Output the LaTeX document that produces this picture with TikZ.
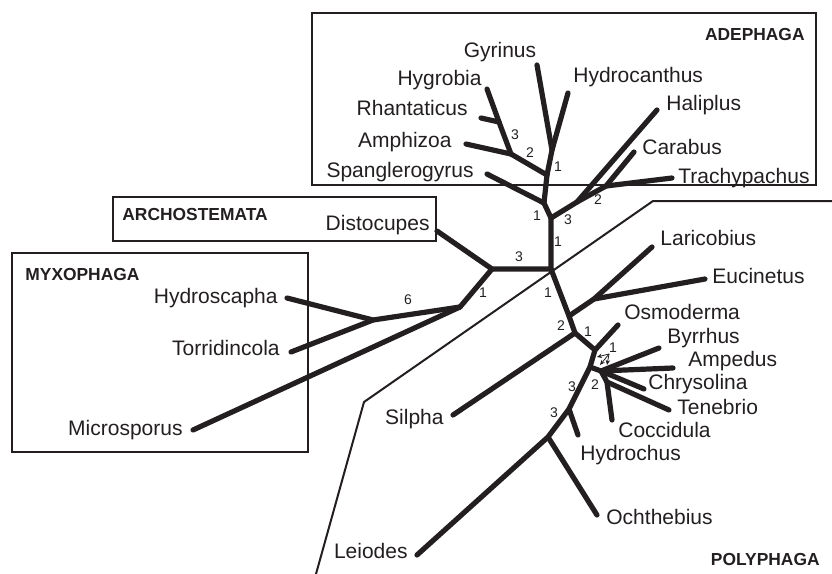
\documentclass[tikz,border=0pt]{standalone}
\usepackage{fontspec}
\setmainfont{Liberation Sans}
\usetikzlibrary{arrows.meta}
\definecolor{ink}{HTML}{231F20}

\begin{document}
\begin{tikzpicture}[
		x=0.5pt, y=-0.5pt, ink,
		>={Stealth[length=2.5pt, width=2.2pt]},
		branch/.style={line width=2.6pt, line cap=round, line join=round},
		groupbox/.style={draw, line width=1pt},
		taxon/.style={font=\fontsize{10.5}{12}\selectfont, inner sep=0pt, text height=7.6pt, text depth=2.2pt},
		clade/.style={font=\fontsize{8.7}{10}\selectfont\bfseries, inner sep=0pt, text height=6.3pt, text depth=0pt},
		support/.style={font=\fontsize{7}{8}\selectfont, inner sep=0pt}
		]
		\useasboundingbox (0,0) rectangle (832,574);
		
		% Suborder boxes and the Polyphaga boundary
		\draw[groupbox] (312,13) rectangle (816,185);
		\draw[groupbox] (113,197) rectangle (436,241);
		\draw[groupbox] (12,253) rectangle (308,452);
		\draw[line width=1pt] (316,574) -- (364,402) -- (653,201) -- (832,201);
		
		% Inner nodes of the tree
		\coordinate (core) at (551,269);
		\coordinate (adA) at (551,218);
		\coordinate (adB) at (544,203);
		\coordinate (adC) at (547,175);
		\coordinate (adD) at (552,150);
		\coordinate (adE) at (511,154);
		\coordinate (adF) at (499,122);
		\coordinate (adG) at (577,202);
		\coordinate (adH) at (606,186);
		\coordinate (arA) at (492,269);
		\coordinate (myA) at (460,307);
		\coordinate (myB) at (373,320);
		\coordinate (poA) at (569,316);
		\coordinate (poB) at (594,299);
		\coordinate (poC) at (575,333);
		\coordinate (poD) at (595,350);
		\coordinate (poE) at (590,367);
		\coordinate (poF) at (601,371);
		\coordinate (poG) at (607,382);
		\coordinate (poH) at (569,409);
		\coordinate (poI) at (548,437);
		
		% Tips
		\coordinate (tGyr) at (537,65);
		\coordinate (tHydc) at (568,93);
		\coordinate (tHygr) at (487,89);
		\coordinate (tRhan) at (481,118);
		\coordinate (tAmph) at (466,144);
		\coordinate (tSpan) at (487,174);
		\coordinate (tHali) at (657,110);
		\coordinate (tCara) at (634,152);
		\coordinate (tTrac) at (672,178);
		\coordinate (tDist) at (437,231);
		\coordinate (tHyds) at (287,298);
		\coordinate (tTorr) at (291,352);
		\coordinate (tMicr) at (193,430);
		\coordinate (tLari) at (652,247);
		\coordinate (tEuci) at (705,279);
		\coordinate (tSilp) at (453,415);
		\coordinate (tOsmo) at (618,325);
		\coordinate (tByrr) at (659,348);
		\coordinate (tAmpe) at (673,368);
		\coordinate (tChry) at (644,389);
		\coordinate (tTene) at (669,410);
		\coordinate (tCocc) at (612,420);
		\coordinate (tHydr) at (578,435);
		\coordinate (tOcht) at (597,515);
		\coordinate (tLeio) at (417,555);
		
		% Adephaga
		\draw[branch] (core) -- (adA) -- (adB) -- (adC) -- (adD) -- (tGyr);
		\draw[branch] (adD) -- (tHydc);
		\draw[branch] (adC) -- (adE) -- (adF) -- (tHygr);
		\draw[branch] (adF) -- (tRhan);
		\draw[branch] (adE) -- (tAmph);
		\draw[branch] (adB) -- (tSpan);
		\draw[branch] (adA) -- (adG) -- (tHali);
		\draw[branch] (adG) -- (adH) -- (tCara);
		\draw[branch] (adH) -- (tTrac);
		
		% Archostemata and Myxophaga
		\draw[branch] (core) -- (arA) -- (tDist);
		\draw[branch] (arA) -- (myA) -- (myB) -- (tHyds);
		\draw[branch] (myB) -- (tTorr);
		\draw[branch] (myA) -- (tMicr);
		
		% Polyphaga
		\draw[branch] (core) -- (poA) -- (poC) -- (poD) -- (poE) -- (poH) -- (poI) -- (tLeio);
		\draw[branch] (poA) -- (poB) -- (tLari);
		\draw[branch] (poB) -- (tEuci);
		\draw[branch] (poC) -- (tSilp);
		\draw[branch] (poD) -- (tOsmo);
		\draw[branch] (poE) -- (poF) -- (tByrr);
		\draw[branch] (poF) -- (tAmpe);
		\draw[branch] (poF) -- (tChry);
		\draw[branch] (poF) -- (poG) -- (tTene);
		\draw[branch] (poG) -- (tCocc);
		\draw[branch] (poH) -- (tHydr);
		\draw[branch] (poI) -- (tOcht);
		
		% the small arrows at the Byrrhus/Elateriformia split
		\coordinate (mvO) at (609,354);
		\coordinate (mvA) at (597,357);
		\coordinate (mvB) at (600,365);
		\coordinate (mvC) at (607,365);
		\draw[line width=0.4pt, ->] (mvO) -- (mvA);
		\draw[line width=0.4pt, ->] (mvO) -- (mvB);
		\draw[line width=0.4pt, ->] (mvO) -- (mvC);
		
		% Taxon names
		\node[taxon] (lGyr) at (500,52) {Gyrinus};
		\node[taxon, anchor=east] (lHygr) at (482,80) {Hygrobia};
		\node[taxon, anchor=east] (lRhan) at (468,110) {Rhantaticus};
		\node[taxon, anchor=east] (lAmph) at (452,142) {Amphizoa};
		\node[taxon, anchor=east] (lSpan) at (474,172) {Spanglerogyrus};
		\node[taxon, anchor=west] (lHydc) at (573,77) {Hydrocanthus};
		\node[taxon, anchor=west] (lHali) at (666,105) {Haliplus};
		\node[taxon, anchor=west] (lCara) at (642,149) {Carabus};
		\node[taxon, anchor=west] (lTrac) at (678,178) {Trachypachus};
		\node[taxon, anchor=east] (lDist) at (430,225) {Distocupes};
		\node[taxon, anchor=east] (lHyds) at (278,298) {Hydroscapha};
		\node[taxon, anchor=east] (lTorr) at (280,350) {Torridincola};
		\node[taxon, anchor=east] (lMicr) at (183,430) {Microsporus};
		\node[taxon, anchor=west] (lLari) at (660,240) {Laricobius};
		\node[taxon, anchor=west] (lEuci) at (712,278) {Eucinetus};
		\node[taxon, anchor=west] (lOsmo) at (624,314) {Osmoderma};
		\node[taxon, anchor=west] (lByrr) at (667,338) {Byrrhus};
		\node[taxon, anchor=west] (lAmpe) at (688,361) {Ampedus};
		\node[taxon, anchor=west] (lChry) at (648,384) {Chrysolina};
		\node[taxon, anchor=west] (lTene) at (677,409) {Tenebrio};
		\node[taxon, anchor=west] (lCocc) at (618,432) {Coccidula};
		\node[taxon, anchor=west] (lHydr) at (580,455) {Hydrochus};
		\node[taxon, anchor=west] (lOcht) at (606,519) {Ochthebius};
		\node[taxon, anchor=east] (lSilp) at (444,419) {Silpha};
		\node[taxon, anchor=east] (lLeio) at (408,553) {Leiodes};
		
		% Suborders
		\node[clade, anchor=north east] (gAdep) at (805,27) {ADEPHAGA};
		\node[clade, anchor=north west] (gArch) at (122,207) {ARCHOSTEMATA};
		\node[clade, anchor=north west] (gMyxo) at (25,267) {MYXOPHAGA};
		\node[clade, anchor=north east] (gPoly) at (820,552) {POLYPHAGA};
		
		% Bremer support values
		\node[support] (s1) at (515,135) {3};
		\node[support] (s2) at (530,153) {2};
		\node[support] (s3) at (558,167) {1};
		\node[support] (s4) at (537,216) {1};
		\node[support] (s5) at (568,220) {3};
		\node[support] (s6) at (598,200) {2};
		\node[support] (s7) at (558,242) {1};
		\node[support] (s8) at (519,257) {3};
		\node[support] (s9) at (483,293) {1};
		\node[support] (s10) at (408,300) {6};
		\node[support] (s11) at (548,293) {1};
		\node[support] (s12) at (561,326) {2};
		\node[support] (s13) at (588,332) {1};
		\node[support] (s14) at (613,348) {1};
		\node[support] (s15) at (595,385) {2};
		\node[support] (s16) at (572,387) {3};
		\node[support] (s17) at (554,413) {3};
		
	\end{tikzpicture}
\end{document}
